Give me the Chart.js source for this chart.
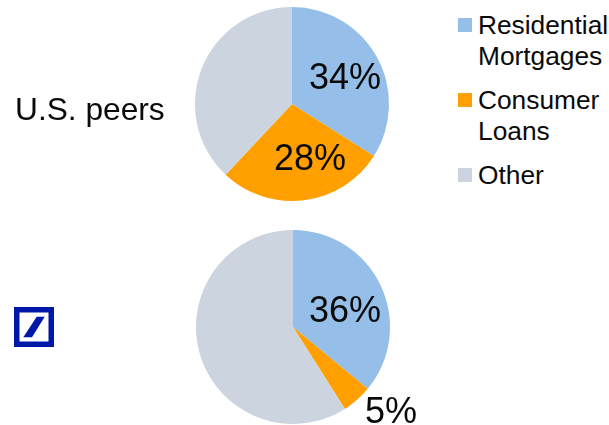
<!DOCTYPE html>
<html>
<head>
<meta charset="utf-8">
<script src="https://cdn.jsdelivr.net/npm/chart.js@4/dist/chart.umd.min.js"></script>
<style>
  html, body { margin: 0; padding: 0; background: #fff; }
  body { position: relative; width: 609px; height: 425px; overflow: hidden;
         font-family: "Liberation Sans", Arial, sans-serif; color: #0a0a0a; }
  .pie { position: absolute; }
  .group { position: absolute; left: 15px; top: 91px; font-size: 31.7px; line-height: 36px; }
  .logo { position: absolute; left: 14px; top: 307px; }
  .key { position: absolute; left: 478px; font-size: 26.3px; line-height: 31px; white-space: nowrap; }
  .swatch { position: absolute; left: 458px; width: 14px; height: 14px; }
</style>
</head>
<body>
<canvas id="peers" class="pie" width="300" height="240" style="left:141.5px; top:-16px"></canvas>
<canvas id="bank" class="pie" width="300" height="240" style="left:143px; top:207px"></canvas>

<div class="group">U.S. peers</div>
<svg class="logo" width="40" height="40" viewBox="0 0 40 40" role="img" aria-label="Deutsche Bank">
  <path fill="#0018a8" fill-rule="evenodd" d="M0 0H40V40H0Z M5.5 5.5V34.5H34.5V5.5Z"/>
  <path fill="#0018a8" d="M22.7 9.7H30.7L18 30.3H9.3Z"/>
</svg>

<div class="swatch" id="sw0" style="top:18px"></div>
<div class="key" style="top:10px">Residential<br>Mortgages</div>
<div class="swatch" id="sw1" style="top:93px"></div>
<div class="key" style="top:85px">Consumer<br>Loans</div>
<div class="swatch" id="sw2" style="top:168px"></div>
<div class="key" style="top:160px">Other</div>

<script>
const categories = ["Residential Mortgages", "Consumer Loans", "Other"];
const peersValues = [34, 28, 38];
const bankValues = [36, 5, 59];
const sliceColors = ["#95bfe8", "#ffa000", "#ccd5df"];
// Which slices carry a percentage label, and where it sits relative to the pie centre.
const peersLabelOffsets = [[53, -25], [18, 56], null];
const bankLabelOffsets = [[52, -15], [98, 86], null];

sliceColors.forEach((c, i) => {
  document.getElementById("sw" + i).style.background = c;
});

const percentLabels = {
  id: "percentLabels",
  afterDatasetsDraw(chart, args, opts) {
    const { ctx } = chart;
    const values = chart.data.datasets[0].data;
    chart.getDatasetMeta(0).data.forEach((arc, i) => {
      const off = opts.offsets[i];
      if (!off) return;
      ctx.save();
      ctx.font = '36px "Liberation Sans", Arial, sans-serif';
      ctx.fillStyle = "#0a0a0a";
      ctx.textAlign = "center";
      ctx.textBaseline = "middle";
      ctx.fillText(values[i] + "%", arc.x + off[0], arc.y + off[1]);
      ctx.restore();
    });
  }
};

function drawPie(id, values, offsets) {
  new Chart(document.getElementById(id), {
    type: "pie",
    data: {
      labels: categories,
      datasets: [{ data: values, backgroundColor: sliceColors, borderWidth: 0 }]
    },
    options: {
      responsive: false,
      maintainAspectRatio: false,
      animation: false,
      radius: 97,
      plugins: {
        legend: { display: false },
        tooltip: { enabled: false },
        percentLabels: { offsets }
      }
    },
    plugins: [percentLabels]
  });
}

drawPie("peers", peersValues, peersLabelOffsets);
drawPie("bank", bankValues, bankLabelOffsets);
</script>
</body>
</html>
